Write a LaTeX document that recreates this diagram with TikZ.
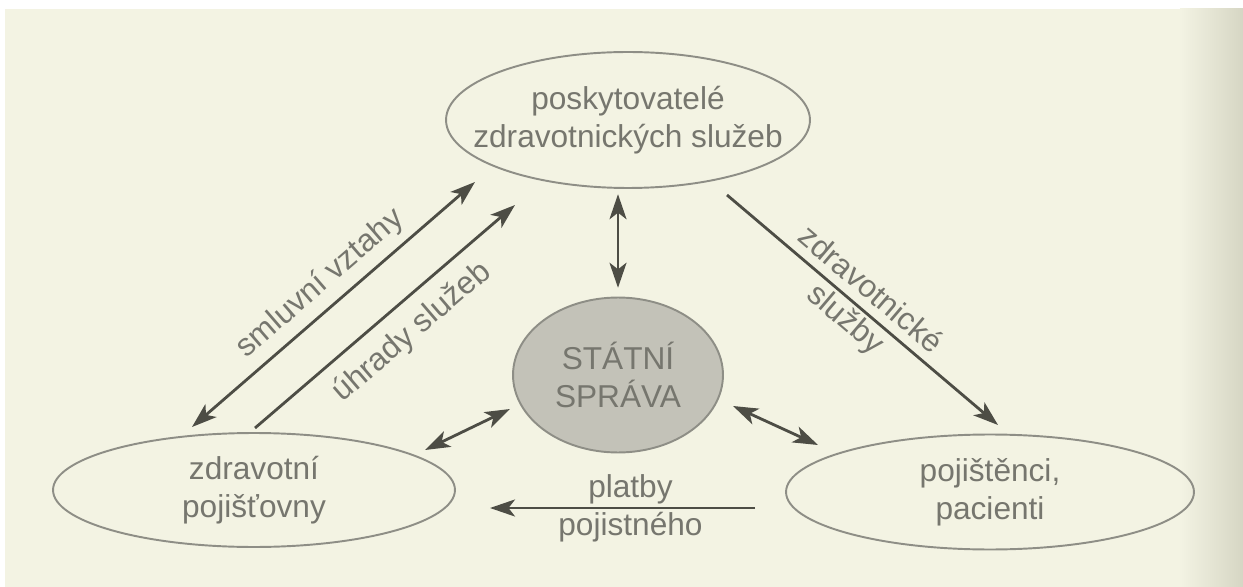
\documentclass[tikz,border=0pt]{standalone}
\usepackage{fontspec}
\setmainfont{Liberation Sans}
\usetikzlibrary{shapes,arrows.meta}
\definecolor{paper}{HTML}{F3F3E3}
\definecolor{paperdark}{HTML}{D6D6C4}
\definecolor{edge}{HTML}{8E8E86}
\definecolor{ink}{HTML}{76766E}
\definecolor{dark}{HTML}{4D4D45}
\definecolor{statefill}{HTML}{C3C2B8}
\tikzset{
  oval/.style={ellipse,draw=edge,line width=1.1pt,inner sep=0pt},
  txt/.style={text=ink,align=center,inner sep=0pt,font=\fontsize{18}{21.6}\selectfont},
  flow/.style={draw=dark,line width=1.6pt}
}
\begin{document}
\begin{tikzpicture}[x=0.02cm,y=-0.02cm,>={Stealth[length=5mm,width=3.4mm,inset=1.3mm]}]
        \useasboundingbox (0,0) rectangle (1243,587);
        % paper
        \fill[white] (0,0) rectangle (1243,587);
        \fill[paper] (5,9) rectangle (1243,587);
        \shade[left color=paper,right color=paperdark] (1180,9) rectangle (1243,587);
        % ovals
        \node[oval,minimum width=7.28cm,minimum height=2.72cm] (prov) at (628,120) {};
        \node[oval,minimum width=8.04cm,minimum height=2.28cm] (zp) at (254,490) {};
        \node[oval,minimum width=8.16cm,minimum height=2.3cm] (poj) at (990,492) {};
        \node[oval,fill=statefill,minimum width=4.2cm,minimum height=3.1cm] (state) at (618,375) {};
        \node[txt] (provtxt) at (prov) {poskytovatelé\\zdravotnických služeb};
        \node[txt] (zptxt) at (zp) {zdravotní\\pojišťovny};
        \node[txt] (pojtxt) at (poj) {pojištěnci,\\pacienti};
        \node[txt] (statetxt) at (state) {STÁTNÍ\\SPRÁVA};
        % arrow ends
        \coordinate (smlA) at (192,427);
        \coordinate (smlB) at (475,182);
        \coordinate (uhrA) at (255,428);
        \coordinate (uhrB) at (515,205);
        \coordinate (zdrA) at (727,195);
        \coordinate (zdrB) at (998,425);
        \coordinate (plaA) at (755,508);
        \coordinate (plaB) at (490,508);
        \coordinate (lsA) at (425,450);
        \coordinate (lsB) at (510,409);
        \coordinate (rsA) at (733,406);
        \coordinate (rsB) at (818,445);
        % flows
        \draw[flow,<->] (smlA) -- (smlB) node[txt,pos=0.51,sloped,above=4.5pt] (smltxt) {smluvní vztahy};
        \draw[flow,->] (uhrA) -- (uhrB) node[txt,pos=0.53,sloped,below=7.7pt] (uhrtxt) {úhrady služeb};
        \draw[flow,->] (zdrA) -- (zdrB) node[txt,pos=0.48,sloped] (zdrtxt) {zdravotnické\\služby};
        \draw[flow,->] (plaA) -- (plaB) node[txt,pos=0.47] (platxt) {platby\\pojistného};
        \draw[flow,<->,shorten <=3pt,shorten >=5pt] (state.north |- prov.south) -- (state.north);
        \draw[flow,<->] (lsA) -- (lsB);
        \draw[flow,<->] (rsA) -- (rsB);
\end{tikzpicture}
\end{document}
